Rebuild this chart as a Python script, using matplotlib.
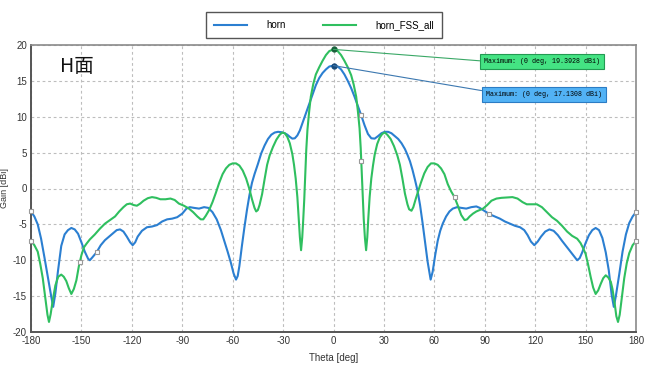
import numpy as np
import matplotlib
matplotlib.use('Agg')
import matplotlib.pyplot as plt

plt.rcParams['font.family'] = ['Liberation Sans', 'DejaVu Sans']
plt.rcParams['axes.unicode_minus'] = False

# horn curve (theta deg, gain dBi)
horn_theta = [-180, -178, -176, -174, -172, -170, -168, -166.8, -165.5, -164, -162, -160, -158, -156, -154, -152,
              -150, -148, -146, -145, -143.5, -141, -138.5, -136, -133.5, -131, -129, -127, -125, -123, -121,
              -119.5, -118, -116.5, -114, -111, -108, -105, -102, -99, -96, -93, -90, -87.5, -85.5, -83, -80,
              -77, -74.5, -72, -69.5, -67, -65, -63, -61, -59.5, -58, -57, -56, -54.5, -53, -51.5, -50, -48.5,
              -47, -45, -43, -41, -39, -37, -35, -33, -31, -29, -27.5, -26, -24.5, -23, -21.5, -20, -18.5,
              -16.5, -14.5, -12.5, -10.5, -8.5, -6.5, -4.5, -2.5, 0,
              2.5, 4.5, 6.5, 8.5, 10.5, 12.5, 14.5, 16.5, 18.5, 20.5, 22.5, 24.5, 26.5, 28.5, 30.5, 32.5,
              34.5, 36.5, 38.5, 40.5, 42.5, 44, 45.5, 47, 48.5, 50, 51.5, 53, 54.5, 56, 57.8, 59, 60.5, 62,
              63.5, 65, 67, 69, 71, 73.5, 76, 79, 82, 85, 87, 89, 91, 93, 96, 99, 102, 105, 108, 111, 113.5,
              115.5, 117.5, 119.5, 121.5, 123.5, 126, 128.5, 131, 133.5, 136, 139, 142, 145, 146.5, 148, 150,
              152, 154, 156, 158, 160, 162, 163.8, 165.5, 166.8, 168, 170, 172, 174, 176, 178, 180]
horn_gain = [-3.2, -3.9, -5.0, -7.0, -9.6, -12.3, -15.0, -16.5, -14.6, -11.6, -8.0, -6.4, -5.8, -5.5, -5.7, -6.3,
             -7.5, -8.8, -9.8, -10.0, -9.6, -8.9, -7.9, -7.2, -6.7, -6.2, -5.8, -5.7, -6.0, -6.7, -7.5,
             -7.9, -7.5, -6.7, -5.9, -5.4, -5.3, -5.1, -4.6, -4.3, -4.2, -4.0, -3.5, -2.8, -2.6, -2.7, -2.8,
             -2.6, -2.7, -3.3, -4.3, -5.8, -7.3, -8.8, -10.4, -11.8, -12.7, -12.2, -10.8, -8.0, -5.4, -3.0, -0.9, 0.8,
             2.0, 3.4, 4.9, 6.0, 6.9, 7.5, 7.8, 7.9, 7.85, 7.7, 7.5, 7.2, 6.95, 7.0, 7.4, 8.1, 9.1,
             10.4, 11.8, 13.1, 14.4, 15.4, 16.1, 16.6, 17.0, 17.13,
             17.0, 16.6, 15.9, 15.0, 14.0, 12.8, 11.5, 10.2, 8.8, 7.6, 7.0, 6.95, 7.3, 7.7, 7.9, 7.9,
             7.7, 7.3, 6.9, 6.3, 5.5, 4.7, 3.8, 2.6, 1.2, -0.3, -2.3, -4.8, -7.5, -10.2, -12.7, -11.6, -9.3, -7.3,
             -5.9, -4.9, -3.9, -3.2, -2.8, -2.6, -2.7, -2.8, -2.6, -2.5, -2.7, -3.0, -3.3, -3.6, -3.9, -4.2, -4.6, -4.9, -5.2, -5.4, -5.8,
             -6.5, -7.4, -7.9, -7.4, -6.7, -6.0, -5.7, -5.9, -6.5, -7.3, -8.2, -9.1, -10.0, -9.7, -8.9, -7.6,
             -6.5, -5.8, -5.5, -5.8, -6.9, -8.9, -11.4, -14.8, -16.5, -15.0, -12.0, -8.8, -6.4, -4.8, -3.9, -3.3]

# horn_FSS_all curve
fss_theta = [-180, -178, -176, -174.5, -173, -171.5, -170.2, -169.3, -168.3, -167, -165.5, -163.8, -162, -160.5,
             -159, -157.5, -156, -154.5, -153, -151.5, -150, -148.5, -147, -145, -142, -139, -136, -133, -130,
             -127.5, -125, -123, -121, -119, -117, -115, -113, -110.5, -108, -105.5, -103, -100, -97, -94.5,
             -92, -89, -86, -83.5, -81, -79, -77.5, -76, -74, -72, -70, -68, -66, -64, -62, -60, -58, -56,
             -54, -52, -50, -48.5, -47, -46, -45, -44, -42.5, -41, -39.5, -38, -36, -34, -32, -30.5, -29,
             -27.5, -26, -24.5, -23.5, -22.5, -21.5, -20.7, -20, -19.3, -18.6, -18, -17.4, -16.8, -16.2, -15.5,
             -14.5, -13.5, -12, -10.5, -8.5, -6.5, -4.5, -2.5, 0,
             2.5, 4.5, 6.5, 8.5, 10.5, 12, 13.5, 14.5, 15.5, 16.2, 16.8, 17.4, 18, 18.7, 19.4, 20.1, 20.7,
             21.5, 22.5, 23.5, 24.5, 26, 27.5, 29, 30.5, 32, 34, 36, 38, 39.5, 41, 42.5, 44, 45, 46.4, 47.5,
             49, 50.5, 52, 54, 56, 58, 60, 62, 64, 66, 68, 70, 72, 74, 76, 78, 79.5, 81, 83, 85, 87, 89,
             91.5, 94, 97, 100, 103, 106.5, 109.5, 112.5, 115, 118, 121, 124, 127, 130, 133, 136, 139, 142,
             145, 147, 148.5, 150, 151.5, 153, 154.5, 156, 157.5, 159, 160.5, 162, 163.5, 165, 166, 167.3,
             168.3, 169.3, 170.3, 171.5, 173, 174.5, 176, 178, 180]
fss_gain = [-7.3, -7.9, -8.8, -10.5, -12.5, -15.2, -17.6, -18.6, -17.5, -15.5, -13.5, -12.3, -12.0, -12.3,
            -12.9, -13.9, -14.7, -14.0, -12.8, -10.8, -9.3, -8.2, -7.7, -7.1, -6.4, -5.6, -4.9, -4.4, -3.9,
            -3.2, -2.6, -2.2, -2.1, -2.3, -2.4, -2.1, -1.7, -1.35, -1.2, -1.3, -1.5, -1.5, -1.4, -1.6,
            -2.1, -2.4, -2.8, -3.3, -3.9, -4.3, -4.3, -3.8, -3.0, -1.9, -0.6, 0.8, 2.0, 2.8, 3.3, 3.5, 3.5, 3.2,
            2.5, 1.4, -0.1, -1.5, -2.7, -3.2, -3.0, -2.3, -0.8, 1.3, 3.3, 4.6, 5.8, 6.8, 7.5, 7.8, 7.7,
            7.2, 6.3, 4.8, 3.3, 1.4, -1.2, -4.2, -6.8, -8.6, -6.8, -4.3, -1.5, 2.0, 5.4, 8.2,
            10.7, 12.8, 14.6, 15.9, 16.9, 17.8, 18.6, 19.15, 19.39,
            19.15, 18.6, 17.8, 16.9, 15.8, 14.5, 12.8, 10.8, 8.4, 5.6, 2.2, -1.3, -4.3, -6.9, -8.6, -6.8, -4.2,
            -1.2, 1.4, 3.2, 4.7, 6.2, 7.1, 7.6, 7.8, 7.5, 6.9, 5.9, 4.6, 3.3, 1.4, -0.7, -2.2, -2.9, -3.1, -2.6,
            -1.4, -0.3, 0.8, 2.1, 3.0, 3.5, 3.5, 3.3, 2.8, 2.0, 0.6, -0.4, -1.2, -2.4, -3.7, -4.4, -4.3, -3.9, -3.5, -3.2, -3.0, -2.8,
            -2.3, -1.7, -1.4, -1.3, -1.25, -1.2, -1.4, -1.9, -2.2, -2.2, -2.2, -2.6, -3.3, -4.0, -4.5, -5.2, -6.0, -6.6,
            -7.0, -7.6, -8.3, -9.1, -10.6, -12.3, -13.8, -14.7, -14.2, -13.3, -12.5, -12.1, -12.4, -13.0, -14.0, -16.0,
            -17.8, -18.6, -17.6, -15.3, -12.5, -10.4, -9.0, -7.9, -7.35]

horn_marks = [-180, -141, 16.4, 92.4, 180]
fss_marks = [-180, -151, 16.5, 72, 180]

blue = '#2b7fd1'
green = '#2fbf5f'

fig = plt.figure(figsize=(6.5, 3.66), dpi=100)
ax = fig.add_axes([31/650, 1-332/366, 605/650, 287/366])

ax.plot(horn_theta, horn_gain, color=blue, lw=1.5, label='horn', zorder=3)
ax.plot(fss_theta, fss_gain, color=green, lw=1.5, label='horn_FSS_all', zorder=3)

ax.plot(horn_marks, np.interp(horn_marks, horn_theta, horn_gain), ls='none', marker='s', ms=3.2,
        mfc='white', mec='#999999', mew=0.8, zorder=4, clip_on=False)
ax.plot(fss_marks, np.interp(fss_marks, fss_theta, fss_gain), ls='none', marker='s', ms=3.2,
        mfc='white', mec='#999999', mew=0.8, zorder=4, clip_on=False)

# maximum markers and callouts
ax.plot([0], [max(fss_gain)], 'o', ms=3.5, color='#17603a', zorder=5)
ax.plot([0], [max(horn_gain)], 'o', ms=3.5, color='#174a7a', zorder=5)
ax.annotate('Maximum: (0 deg, 19.3928 dBi)', xy=(0, max(fss_gain)), xytext=(0.749, 0.9425),
            textcoords='axes fraction', va='center', ha='left', fontsize=4.8, family='Liberation Mono',
            bbox=dict(boxstyle='square,pad=0.6', fc='#44e383', ec='#239a52', lw=0.8),
            arrowprops=dict(arrowstyle='-', color='#3aa866', lw=0.8, relpos=(0, 0.55),
                            shrinkA=0, shrinkB=0), zorder=6)
ax.annotate('Maximum: (0 deg, 17.1308 dBi)', xy=(0, max(horn_gain)), xytext=(0.752, 0.828),
            textcoords='axes fraction', va='center', ha='left', fontsize=4.8, family='Liberation Mono',
            bbox=dict(boxstyle='square,pad=0.6', fc='#52b2f5', ec='#2b7cc4', lw=0.8),
            arrowprops=dict(arrowstyle='-', color='#3c78b0', lw=0.8, relpos=(0.03, 0.85),
                            shrinkA=0, shrinkB=0), zorder=6)

ax.text(-163, 17.0, 'H面', fontsize=14, ha='left', va='center',
        family=['Noto Sans CJK SC', 'DejaVu Sans'], color='#111111')

ax.set_xlim(-180, 180)
ax.set_ylim(-20, 20)
ax.set_xticks(range(-180, 181, 30))
ax.set_yticks(range(-20, 21, 5))
ax.grid(True, ls=(0, (2.5, 2.5)), color='#bdbdbd', lw=0.8)
ax.tick_params(length=0, labelsize=7, colors='#333333', pad=3)
for s in ['left', 'bottom']:
    ax.spines[s].set_color('#555555')
    ax.spines[s].set_linewidth(1.4)
for s in ['top', 'right']:
    ax.spines[s].set_color('#8a8a8a')
    ax.spines[s].set_linewidth(1.2)

ax.set_xlabel('Theta [deg]', fontsize=7, color='#333333', labelpad=5)
ax.set_ylabel('Gain [dBi]', fontsize=6.5, color='#333333')
ax.yaxis.set_label_coords(-0.037, 0.5)

leg = fig.legend(loc='center', bbox_to_anchor=(324/650, 1-25/366), ncol=2, fontsize=7,
                 handlelength=3.4, columnspacing=3.8, handletextpad=2.0, borderpad=0.8,
                 fancybox=False, framealpha=1, edgecolor='#555555')
leg.get_frame().set_linewidth(1.0)

fig.savefig('out.png', dpi=100)
